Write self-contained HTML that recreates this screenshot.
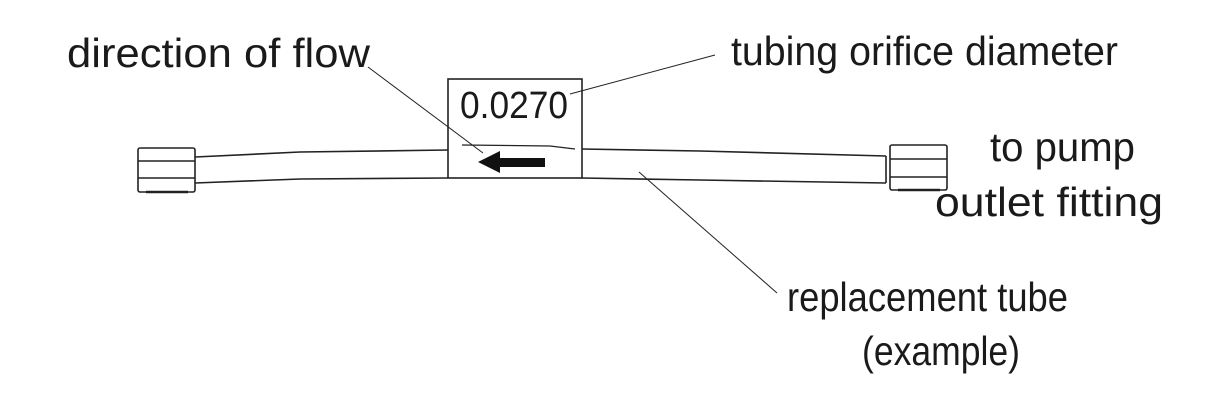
<!DOCTYPE html>
<html><head><style>
html,body{margin:0;padding:0;background:#fff;}
svg{display:block;}
text{font-family:"Liberation Sans",Arial,sans-serif;fill:#1a1a1a;}
</style></head><body>
<svg width="1207" height="420" viewBox="0 0 1207 420" xmlns="http://www.w3.org/2000/svg">
<g stroke="#222" fill="none" stroke-width="1.6">
<rect x="138" y="148" width="57" height="44" rx="2"/>
<line x1="138" y1="161" x2="195" y2="161"/>
<line x1="138" y1="178" x2="195" y2="178"/>
<line x1="146" y1="192" x2="188" y2="192" stroke-width="2.5"/>
<path d="M195 157 L300 152 L448 150"/>
<path d="M195 183 L300 179 L448 178"/>
<rect x="448" y="79" width="134" height="99"/>
<path d="M462 145 L550 146 L575 149" stroke-width="1.2"/>
<path d="M582 149 L700 151 L886 156"/>
<path d="M582 178 L700 180 L886 183"/>
<line x1="886" y1="156" x2="886" y2="183"/>
<rect x="890" y="145" width="57" height="45" rx="2"/>
<line x1="890" y1="159" x2="947" y2="159"/>
<line x1="890" y1="177" x2="947" y2="177"/>
<line x1="898" y1="190" x2="940" y2="190" stroke-width="2.5"/>
<g stroke-width="1">
<line x1="368" y1="67" x2="483" y2="153"/>
<line x1="570" y1="94" x2="715" y2="55"/>
<line x1="639" y1="172" x2="777" y2="293"/>
</g>
</g>
<path d="M478 162 L500 151 L500 158 L545 158 L545 167 L500 167 L500 173 Z" fill="#111"/>
<g font-size="41">
<text x="67" y="67" textLength="303" lengthAdjust="spacingAndGlyphs">direction of flow</text>
<text x="731" y="65" textLength="387" lengthAdjust="spacingAndGlyphs">tubing orifice diameter</text>
<text x="990" y="161" textLength="145" lengthAdjust="spacingAndGlyphs">to pump</text>
<text x="935" y="216" textLength="228" lengthAdjust="spacingAndGlyphs">outlet fitting</text>
<text x="787" y="311" textLength="281" lengthAdjust="spacingAndGlyphs">replacement tube</text>
<text x="862" y="365" textLength="158" lengthAdjust="spacingAndGlyphs">(example)</text>
<text x="460" y="118" font-size="38" textLength="108" lengthAdjust="spacingAndGlyphs">0.0270</text>
</g>
</svg>
</body></html>
